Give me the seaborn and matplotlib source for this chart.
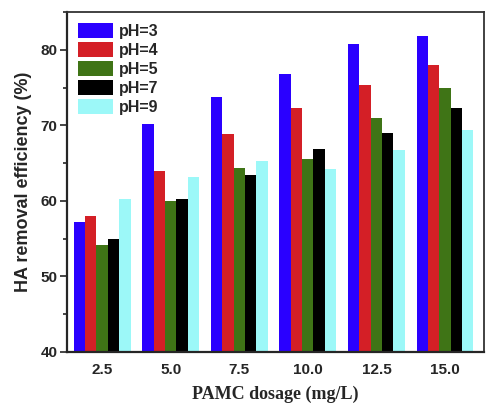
import pandas as pd
import numpy as np
import matplotlib
matplotlib.use("Agg")
import matplotlib.pyplot as plt
import seaborn as sns
from matplotlib.ticker import MultipleLocator

sns.set_style("ticks")
plt.rcParams['font.family'] = ['Liberation Sans', 'DejaVu Sans']

dosages = ["2.5", "5.0", "7.5", "10.0", "12.5", "15.0"]
ph_labels = ["pH=3", "pH=4", "pH=5", "pH=7", "pH=9"]
ph3 = [57.2, 70.2, 73.8, 76.8, 80.8, 81.8]
ph4 = [58.0, 64.0, 68.9, 72.3, 75.3, 78.0]
ph5 = [54.2, 60.0, 64.3, 65.5, 71.0, 75.0]
ph7 = [54.9, 60.3, 63.4, 66.8, 69.0, 72.3]
ph9 = [60.3, 63.2, 65.3, 64.2, 66.7, 69.4]
colors = ["#2a00ff", "#d41f26", "#3f7416", "#000000", "#9cf8f8"]

rows = []
for lab, vals in zip(ph_labels, [ph3, ph4, ph5, ph7, ph9]):
    for d, v in zip(dosages, vals):
        rows.append({"dosage": d, "pH": lab, "eff": v})
df = pd.DataFrame(rows)

fig = plt.figure(figsize=(4.86, 4.03), dpi=100)
ax = fig.add_axes([0.138, 0.127, 0.858, 0.843])
sns.barplot(data=df, x="dosage", y="eff", hue="pH", order=dosages,
            hue_order=ph_labels, palette=colors, width=0.83, saturation=1,
            linewidth=0, ax=ax)

ax.set_ylim(40, 85)
ax.set_xlim(-0.51, 5.57)
ax.yaxis.set_major_locator(MultipleLocator(10))
ax.yaxis.set_minor_locator(MultipleLocator(5))
ax.tick_params(axis='y', which='major', length=5, width=1.2, labelsize=11, pad=2)
ax.tick_params(axis='y', which='minor', length=3, width=1.2)
ax.tick_params(axis='x', length=0, labelsize=11, pad=8)
for lbl in ax.get_xticklabels() + ax.get_yticklabels():
    lbl.set_fontweight('bold')
ax.set_ylabel("HA removal efficiency (%)", fontsize=13, fontweight='bold', labelpad=6)
ax.set_xlabel("PAMC dosage (mg/L)", fontsize=13, fontweight='bold',
              family=['Liberation Serif', 'DejaVu Serif'], labelpad=6)
for side in ['left', 'bottom']:
    ax.spines[side].set_linewidth(1.6)
for side in ['top', 'right']:
    ax.spines[side].set_linewidth(1.3)
    ax.spines[side].set_color('#333333')

leg = ax.legend(loc='upper left', frameon=False, fontsize=11.5, handlelength=2.2,
                handleheight=1.05, labelspacing=0.2, handletextpad=0.35,
                borderaxespad=0.3, bbox_to_anchor=(0.0, 1.0))
for t in leg.get_texts():
    t.set_fontweight('bold')

fig.savefig("out.png", dpi=100)
